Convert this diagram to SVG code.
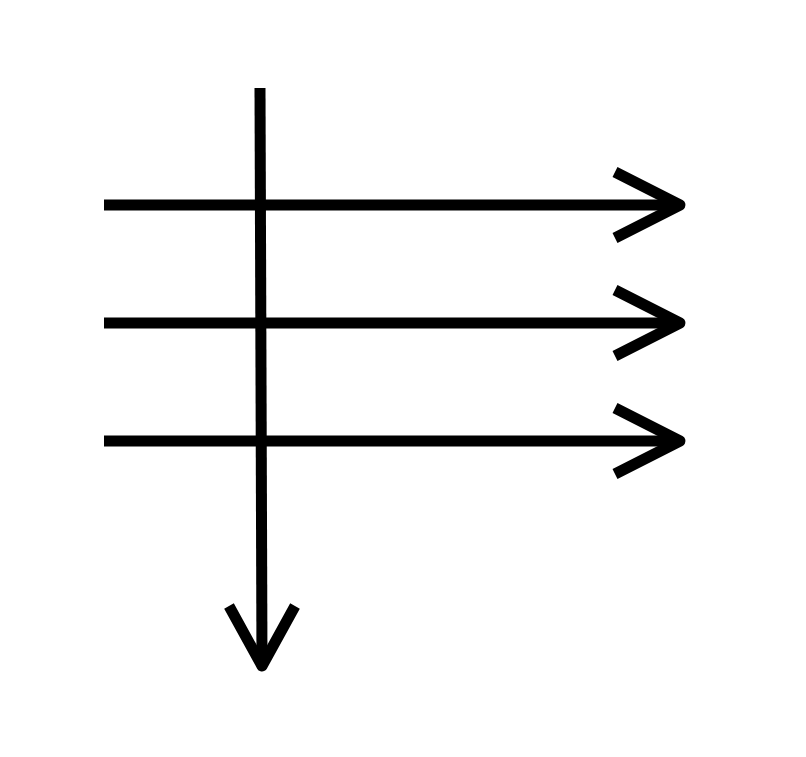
<svg xmlns="http://www.w3.org/2000/svg" width="806" height="757" viewBox="0 0 806 757">
<style>
.ln{fill:none;stroke:#000;stroke-width:11;stroke-linecap:butt;stroke-linejoin:round}
.hd{fill:none;stroke:#000;stroke-width:11;stroke-linecap:butt;stroke-linejoin:round}
</style>
<rect width="806" height="757" fill="#fff"/>
<g id="connectors">
<g id="down">
<path class="ln" d="M260 88 L262 664"/>
<path class="hd" d="M229 606 L262 666 L295 606"/>
</g>
<g id="row1">
<path class="ln" d="M104 205 L678 205"/>
<path class="hd" d="M615 172 L680 205 L615 238"/>
</g>
<g id="row2">
<path class="ln" d="M104 323 L678 323"/>
<path class="hd" d="M615 290 L680 323 L615 356"/>
</g>
<g id="row3">
<path class="ln" d="M104 441 L678 441"/>
<path class="hd" d="M615 408 L680 441 L615 474"/>
</g>
</g>
</svg>
